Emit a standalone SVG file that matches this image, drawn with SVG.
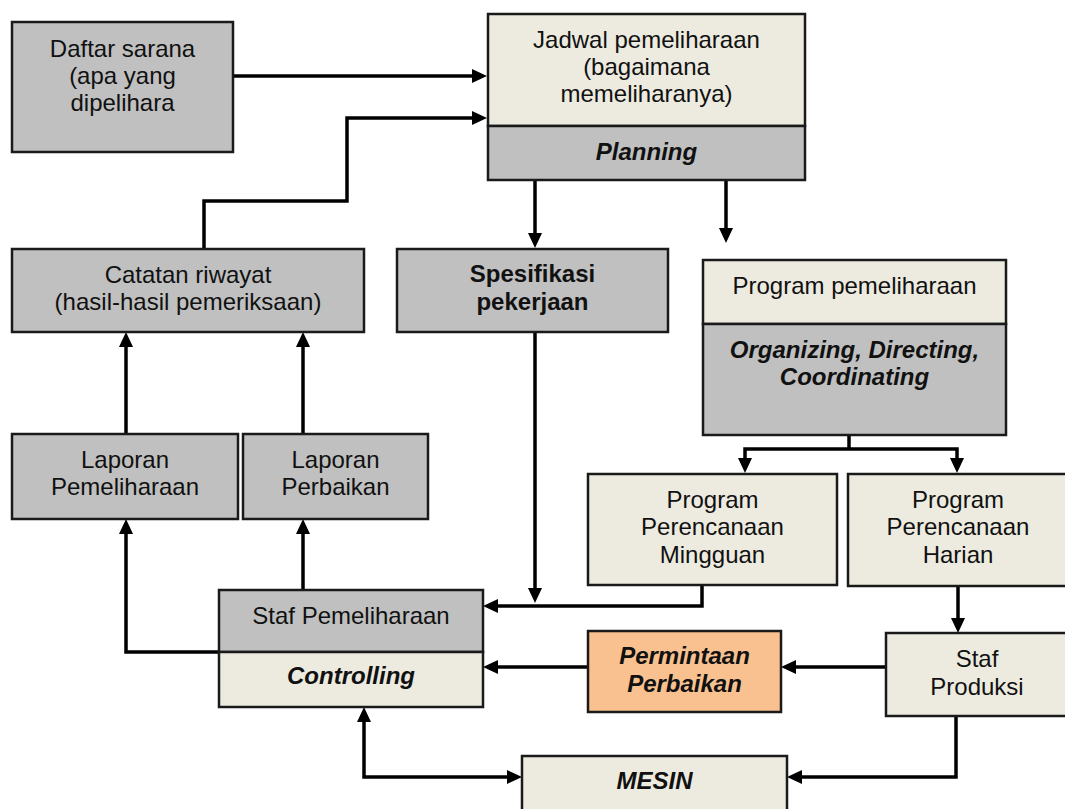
<svg xmlns="http://www.w3.org/2000/svg" width="1065" height="809" viewBox="0 0 1065 809">
  <style>
    .box { stroke: #1a1a1a; stroke-width: 2.5; }
    .gray { fill: #c0c0c0; }
    .beige { fill: #edebe0; }
    .orange { fill: #f9c18f; }
    .sep { stroke: #1a1a1a; stroke-width: 2.5; fill: none; }
    text { font-family: "Liberation Sans", Arial, sans-serif; font-size: 24px; fill: #111; text-anchor: middle; }
    .b { font-weight: bold; }
    .bi { font-weight: bold; font-style: italic; }
    .conn path { fill: none; stroke: #000; stroke-width: 3.5; marker-end: url(#ah); }
    .conn path.plain { marker-end: none; }
  </style>
  <defs>
    <marker id="ah" markerWidth="15" markerHeight="14" refX="7" refY="7" orient="auto-start-reverse" markerUnits="userSpaceOnUse">
      <path d="M0,0 L15,7 L0,14 z" fill="#000"/>
    </marker>
  </defs>
  <rect width="1065" height="809" fill="#ffffff"/>

  <!-- connectors -->
  <g id="connectors" class="conn">
    <path d="M233,76 H479"/>
    <path d="M204,248 V201 H347 V118 H479"/>
    <path d="M535,180 V240"/>
    <path d="M726,180 V235"/>
    <path class="plain" d="M849,435 V449"/>
    <path d="M849,449 H745 V465"/>
    <path d="M849,449 H957 V465"/>
    <path d="M535,332 V595"/>
    <path d="M702,585 V606 H491"/>
    <path d="M219,652 H126 V527"/>
    <path d="M303,597 V527"/>
    <path d="M126,434 V340"/>
    <path d="M303,434 V340"/>
    <path d="M958,586 V625"/>
    <path d="M886,667 H789"/>
    <path d="M588,667 H491"/>
    <path d="M364,715 V777 H514" style="marker-start:url(#ah)"/>
    <path d="M956,716 V777 H795"/>
  </g>

  <g id="daftar-sarana">
    <rect class="box gray" x="12" y="22" width="221" height="130"/>
    <text x="122.5" y="57">Daftar sarana</text>
    <text x="122.5" y="84">(apa yang</text>
    <text x="122.5" y="111">dipelihara</text>
  </g>

  <g id="jadwal-pemeliharaan">
    <rect class="box beige" x="488" y="14" width="317" height="112"/>
    <rect class="box gray" x="488" y="126" width="317" height="54"/>
    <text x="646.5" y="48">Jadwal pemeliharaan</text>
    <text x="646.5" y="75">(bagaimana</text>
    <text x="646.5" y="102">memeliharanya)</text>
    <text class="bi" x="646.5" y="160">Planning</text>
  </g>

  <g id="catatan-riwayat">
    <rect class="box gray" x="12" y="249" width="352" height="83"/>
    <text x="188" y="283">Catatan riwayat</text>
    <text x="188" y="310">(hasil-hasil pemeriksaan)</text>
  </g>

  <g id="spesifikasi-pekerjaan">
    <rect class="box gray" x="397" y="249" width="271" height="83"/>
    <text class="b" x="532.5" y="282">Spesifikasi</text>
    <text class="b" x="532.5" y="310">pekerjaan</text>
  </g>

  <g id="program-pemeliharaan">
    <rect class="box beige" x="703" y="260" width="303" height="64"/>
    <rect class="box gray" x="703" y="324" width="303" height="111"/>
    <text x="854.5" y="294">Program pemeliharaan</text>
    <text class="bi" x="854.5" y="358">Organizing, Directing,</text>
    <text class="bi" x="854.5" y="385">Coordinating</text>
  </g>

  <g id="laporan-pemeliharaan">
    <rect class="box gray" x="12" y="434" width="226" height="85"/>
    <text x="125" y="468">Laporan</text>
    <text x="125" y="495">Pemeliharaan</text>
  </g>

  <g id="laporan-perbaikan">
    <rect class="box gray" x="243" y="434" width="185" height="85"/>
    <text x="335.5" y="468">Laporan</text>
    <text x="335.5" y="495">Perbaikan</text>
  </g>

  <g id="program-mingguan">
    <rect class="box beige" x="588" y="474" width="249" height="111"/>
    <text x="712.5" y="508">Program</text>
    <text x="712.5" y="535">Perencanaan</text>
    <text x="712.5" y="563">Mingguan</text>
  </g>

  <g id="program-harian">
    <rect class="box beige" x="848" y="474" width="220" height="112"/>
    <text x="958" y="508">Program</text>
    <text x="958" y="535">Perencanaan</text>
    <text x="958" y="563">Harian</text>
  </g>

  <g id="staf-pemeliharaan">
    <rect class="box gray" x="219" y="590" width="264" height="62"/>
    <rect class="box beige" x="219" y="652" width="264" height="55"/>
    <text x="351" y="624">Staf Pemeliharaan</text>
    <text class="bi" x="351" y="684">Controlling</text>
  </g>

  <g id="permintaan-perbaikan">
    <rect class="box orange" x="588" y="631" width="193" height="81"/>
    <text class="bi" x="684.5" y="664">Permintaan</text>
    <text class="bi" x="684.5" y="692">Perbaikan</text>
  </g>

  <g id="staf-produksi">
    <rect class="box beige" x="886" y="633" width="182" height="83"/>
    <text x="977" y="667">Staf</text>
    <text x="977" y="695">Produksi</text>
  </g>

  <g id="mesin">
    <rect class="box beige" x="522" y="756" width="265" height="70"/>
    <text class="bi" x="654.5" y="789">MESIN</text>
  </g>
</svg>
